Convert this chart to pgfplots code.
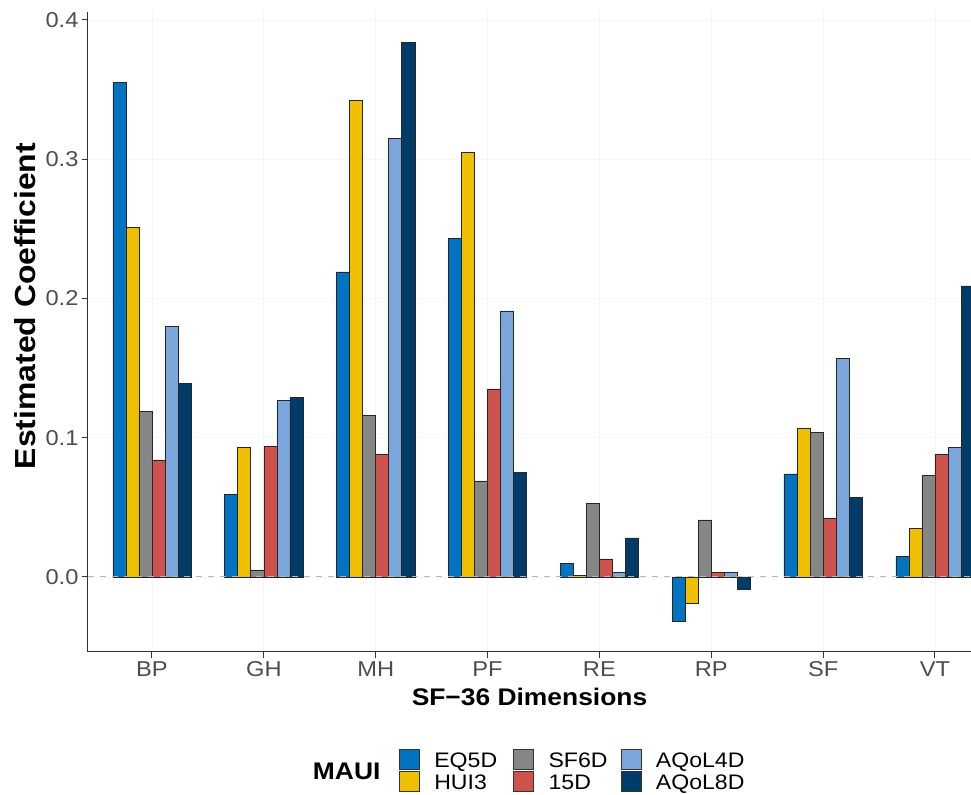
\documentclass[border=0pt]{standalone}
\usepackage{fontspec}
\setmainfont{Liberation Sans}[FakeStretch=1.1]
\usepackage{pgfplots}
\usepackage{pgfplotstable}
\pgfplotsset{compat=1.18}
\definecolor{cEQ}{HTML}{0073C2}
\definecolor{cHUI}{HTML}{EFC000}
\definecolor{cSF}{HTML}{868686}
\definecolor{cFD}{HTML}{CD534C}
\definecolor{cAf}{HTML}{7AA6DC}
\definecolor{cAe}{HTML}{003C67}
\definecolor{axisgray}{HTML}{333333}
\definecolor{ticktext}{HTML}{4D4D4D}
\pgfplotstableread{
x EQ5D HUI3 SF6D D15 AQoL4D AQoL8D
1 0.355 0.251 0.119 0.084 0.180 0.139
2 0.059 0.093 0.005 0.094 0.127 0.129
3 0.219 0.342 0.116 0.088 0.315 0.384
4 0.243 0.305 0.069 0.135 0.191 0.075
5 0.010 0.001 0.053 0.013 0.003 0.028
6 -0.032 -0.019 0.041 0.003 0.003 -0.009
7 0.074 0.107 0.104 0.042 0.157 0.057
8 0.015 0.035 0.073 0.088 0.093 0.209
}\data
\newcommand{\legbox}[1]{\addlegendimage{legend image code/.code={\draw[fill=#1, draw=black!80, line width=0.6pt] (0pt,-7.5pt) rectangle (20pt,13pt); \path[draw=none,fill=none] (20pt,0pt) rectangle (35pt,1pt);}}}
\begin{document}
\begin{tikzpicture}
\begin{axis}[
  name=ax,
  scale only axis, width=883pt, height=640pt,
  xmin=0.428, xmax=8.322, ymin=-0.0539, ymax=0.4057,
  ybar, bar width=0.1167,
  xtick={1,2,3,4,5,6,7,8},
  xticklabels={BP,GH,MH,PF,RE,RP,SF,VT},
  ytick={0,0.1,0.2,0.3,0.4},
  yticklabel style={/pgf/number format/.cd, fixed, fixed zerofill, precision=1},
  /pgf/number format/assume math mode=true,
  axis x line*=bottom, axis y line*=left,
  axis line style={axisgray, line width=1pt, -},
  tick align=outside, major tick length=6pt,
  tick style={axisgray, line width=1pt},
  ticklabel style={font=\fontsize{21.5}{25}\selectfont, text=ticktext},
  grid=major, major grid style={gray!7, line width=0.8pt},
  xlabel={SF−36 Dimensions},
  xlabel style={font=\bfseries\fontsize{24}{28}\selectfont, at={(axis description cs:0.5,-0.0703)}, anchor=center},
  ylabel={Estimated Coefficient},
  ylabel style={font=\bfseries\fontsize{29}{33}\selectfont, at={(axis description cs:-0.0713,0.5406)}, anchor=center, rotate=0},
  legend style={at={(axis description cs:0.2548,-0.1515)}, anchor=north west, draw=none, fill=none,
    inner sep=0pt, outer sep=0pt, column sep=0pt, row sep=-3pt,
    nodes={inner sep=0pt, text height=17pt, text depth=6pt, font=\fontsize{21}{24}\selectfont}},
  legend cell align=left,
  legend columns=4,
]
\addplot[fill=cEQ, draw=black!85, line width=0.6pt, bar shift=-0.2917, forget plot] table[x=x,y=EQ5D]{\data};
\addplot[fill=cHUI, draw=black!85, line width=0.6pt, bar shift=-0.175, forget plot] table[x=x,y=HUI3]{\data};
\addplot[fill=cSF, draw=black!85, line width=0.6pt, bar shift=-0.0583, forget plot] table[x=x,y=SF6D]{\data};
\addplot[fill=cFD, draw=black!85, line width=0.6pt, bar shift=0.0583, forget plot] table[x=x,y=D15]{\data};
\addplot[fill=cAf, draw=black!85, line width=0.6pt, bar shift=0.175, forget plot] table[x=x,y=AQoL4D]{\data};
\addplot[fill=cAe, draw=black!85, line width=0.6pt, bar shift=0.2917, forget plot] table[x=x,y=AQoL8D]{\data};
\addplot[sharp plot, draw=gray!55, line width=0.9pt, dash pattern=on 6pt off 6pt, forget plot] coordinates {(0.428,0) (8.322,0)};
\addlegendimage{empty legend}
\addlegendentry{\makebox[86pt][l]{\raisebox{-11.5pt}[0pt][0pt]{\bfseries\fontsize{24}{28}\selectfont MAUI}}}
\legbox{cEQ}\addlegendentry{\makebox[79pt][l]{EQ5D}}
\legbox{cSF}\addlegendentry{\makebox[72pt][l]{SF6D}}
\legbox{cAf}\addlegendentry{\makebox[90pt][l]{AQoL4D}}
\addlegendimage{empty legend}\addlegendentry{}
\legbox{cHUI}\addlegendentry{HUI3}
\legbox{cFD}\addlegendentry{15D}
\legbox{cAe}\addlegendentry{AQoL8D}
\end{axis}
\pgfresetboundingbox
\path ([xshift=-88pt,yshift=-143pt]ax.south west) rectangle ([yshift=12pt]ax.north east);
\end{tikzpicture}
\end{document}
